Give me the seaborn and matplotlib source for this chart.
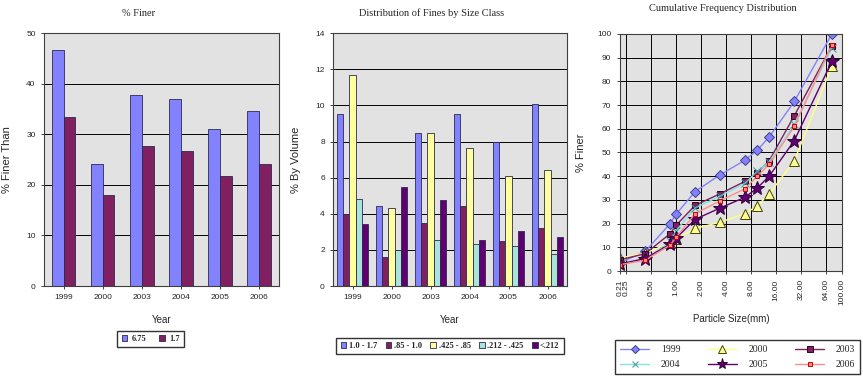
import numpy as np
import pandas as pd
import seaborn as sns
import matplotlib.pyplot as plt
from matplotlib.lines import Line2D

years = ["1999", "2000", "2003", "2004", "2005", "2006"]

# % finer than 6.75 mm and 1.7 mm
finer_675 = [46.7, 24.2, 37.8, 37.0, 31.1, 34.7]
finer_17 = [33.5, 18.0, 27.7, 26.6, 21.8, 24.2]

# fines by size class (% by volume)
size_classes = ["1.0 - 1.7", ".85 - 1.0", ".425 - .85", ".212 - .425", "<.212"]
cls_10_17 = [9.55, 4.45, 8.45, 9.55, 7.95, 10.05]
cls_085_10 = [4.0, 1.6, 3.5, 4.45, 2.5, 3.2]
cls_0425_085 = [11.7, 4.3, 8.45, 7.65, 6.1, 6.45]
cls_0212_0425 = [4.8, 2.0, 2.55, 2.3, 2.2, 1.8]
cls_lt_0212 = [3.45, 5.5, 4.75, 2.55, 3.05, 2.7]

# cumulative frequency distribution
particle_size = [0.212, 0.425, 0.85, 1.0, 1.7, 3.35, 6.75, 9.5, 13.2, 26.5, 75.0]
cum_1999 = [3.45, 8.25, 19.95, 23.95, 33.5, 40.5, 46.7, 51.0, 56.5, 71.5, 100.0]
cum_2000 = [5.5, 7.5, 11.8, 13.4, 18.0, 20.5, 24.2, 27.5, 32.5, 46.5, 86.5]
cum_2003 = [4.75, 7.3, 15.75, 19.25, 27.7, 32.5, 37.8, 41.5, 46.5, 65.5, 95.0]
cum_2004 = [2.55, 4.85, 12.5, 16.95, 26.6, 31.5, 37.0, 42.0, 46.0, 62.0, 94.0]
cum_2005 = [3.05, 5.25, 11.35, 13.85, 21.8, 26.5, 31.1, 35.0, 40.0, 55.0, 88.5]
cum_2006 = [2.7, 4.5, 10.95, 14.15, 24.2, 29.5, 34.7, 40.0, 45.0, 61.0, 95.5]
x_ticks = [0.21, 0.25, 0.5, 1, 2, 4, 8, 16, 32, 64, 100]
x_ticklabels = ["0.21", "0.25", "0.50", "1.00", "2.00", "4.00", "8.00",
                "16.00", "32.00", "64.00", "100.00"]

sns.set_style("white")
plt.rcParams["font.family"] = ["Liberation Sans", "DejaVu Sans"]
serif = ["Liberation Serif", "DejaVu Serif"]
bg = "#E2E2E2"

fig = plt.figure(figsize=(8.63, 3.85), dpi=100)
ax1 = fig.add_axes([0.051, 0.257, 0.272, 0.657])
ax2 = fig.add_axes([0.386, 0.257, 0.271, 0.657])
ax3 = fig.add_axes([0.718, 0.296, 0.258, 0.616])


def style_axes(ax):
    ax.set_facecolor(bg)
    for s in ax.spines.values():
        s.set_color("#404040")
        s.set_linewidth(0.8)
    ax.tick_params(labelsize=6, length=2.5, width=0.6, direction="out",
                   bottom=True, left=True)
    ax.set_axisbelow(True)


# ---- chart 1: % finer ----
df1 = pd.DataFrame({"Year": years * 2,
                    "val": finer_675 + finer_17,
                    "size": ["6.75"] * 6 + ["1.7"] * 6})
sns.barplot(data=df1, x="Year", y="val", hue="size", ax=ax1,
            palette=["#8282FF", "#802060"], width=0.6, gap=0,
            edgecolor="#2A2A50", linewidth=0.6, saturation=1)
style_axes(ax1)
ax1.set_ylim(0, 50)
ax1.set_yticks(range(0, 51, 10))
ax1.yaxis.grid(True, color="black", linewidth=0.7)
ax1.set_xlabel("Year", fontsize=7, labelpad=10)
ax1.set_ylabel("% Finer Than", fontsize=8, labelpad=10)
h, l = ax1.get_legend_handles_labels()
ax1.legend(h, l, loc="center", bbox_to_anchor=(0.455, -0.21), ncol=2,
           prop={"family": serif, "size": 6, "weight": "bold"},
           frameon=True, fancybox=False, edgecolor="black",
           handlelength=0.7, handleheight=0.7, columnspacing=1.6,
           borderpad=0.5, handletextpad=0.5)
fig.text(0.16, 0.965, "% Finer", ha="center", va="center",
         family=serif, fontsize=7.5)

# ---- chart 2: distribution of fines ----
cls_lists = [cls_10_17, cls_085_10, cls_0425_085, cls_0212_0425, cls_lt_0212]
df2 = pd.DataFrame({"Year": years * len(size_classes),
                    "val": sum(cls_lists, []),
                    "cls": np.repeat(size_classes, len(years))})
sns.barplot(data=df2, x="Year", y="val", hue="cls", ax=ax2,
            palette=["#8282FF", "#802060", "#FFFF9E", "#A8E4DC", "#600070"],
            width=0.8, gap=0, edgecolor="#2A2A50", linewidth=0.6, saturation=1)
style_axes(ax2)
ax2.set_ylim(0, 14)
ax2.set_yticks(range(0, 15, 2))
ax2.yaxis.grid(True, color="black", linewidth=0.7)
ax2.set_xlabel("Year", fontsize=7, labelpad=10)
ax2.set_ylabel("% By Volume", fontsize=8, labelpad=10)
h, l = ax2.get_legend_handles_labels()
ax2.legend(h, l, loc="center", bbox_to_anchor=(0.5, -0.237), ncol=5,
           prop={"family": serif, "size": 6, "weight": "bold"},
           frameon=True, fancybox=False, edgecolor="black",
           handlelength=0.7, handleheight=0.7, columnspacing=1.0,
           borderpad=0.5, handletextpad=0.3)
fig.text(0.5, 0.965, "Distribution of Fines by Size Class", ha="center",
         va="center", family=serif, fontsize=7.5)

# ---- chart 3: cumulative frequency distribution ----
series = {
    "1999": (cum_1999, "#8282FF", "D", "#8282FF", "#404088", 5),
    "2000": (cum_2000, "#FFFF88", "^", "#FFFF99", "#444400", 7),
    "2003": (cum_2003, "#802060", "s", "#802060", "#330022", 5),
    "2004": (cum_2004, "#88E0E0", "x", "#339999", "#339999", 6),
    "2005": (cum_2005, "#600070", "*", "#600070", "#300038", 10),
    "2006": (cum_2006, "#FF8C8C", "s", "#FF8C8C", "#CC0000", 3.5),
}
handles = {}
for yr, (vals, lc, mk, mfc, mec, ms) in series.items():
    sns.lineplot(x=particle_size, y=vals, ax=ax3, color=lc, linewidth=1.0,
                 marker=mk, markersize=ms, markerfacecolor=mfc,
                 markeredgecolor=mec, markeredgewidth=0.7, label=yr)
    handles[yr] = Line2D([], [], color=lc, marker=mk, markersize=ms * 0.8,
                         markerfacecolor=mfc, markeredgecolor=mec,
                         markeredgewidth=0.7, linewidth=1.0)
style_axes(ax3)
ax3.set_xscale("log")
ax3.set_xlim(0.21, 100)
ax3.set_ylim(0, 100)
ax3.set_xticks(x_ticks)
ax3.set_xticklabels(x_ticklabels, rotation=90)
ax3.minorticks_off()
ax3.set_yticks(range(0, 101, 10))
ax3.grid(True, color="black", linewidth=0.7)
ax3.set_xlabel("Particle Size(mm)", fontsize=7, labelpad=6)
ax3.set_ylabel("% Finer", fontsize=8, labelpad=8)
order = ["1999", "2004", "2000", "2005", "2003", "2006"]
ax3.legend([handles[k] for k in order], order, loc="center",
           bbox_to_anchor=(0.53, -0.363), ncol=3,
           prop={"family": serif, "size": 7},
           frameon=True, fancybox=False, edgecolor="black",
           handlelength=3.0, columnspacing=2.8, borderpad=0.5,
           handletextpad=1.2, labelspacing=0.6)
fig.text(0.837, 0.978, "Cumulative Frequency Distribution", ha="center",
         va="center", family=serif, fontsize=7.5)

fig.savefig("out.png", dpi=100)
